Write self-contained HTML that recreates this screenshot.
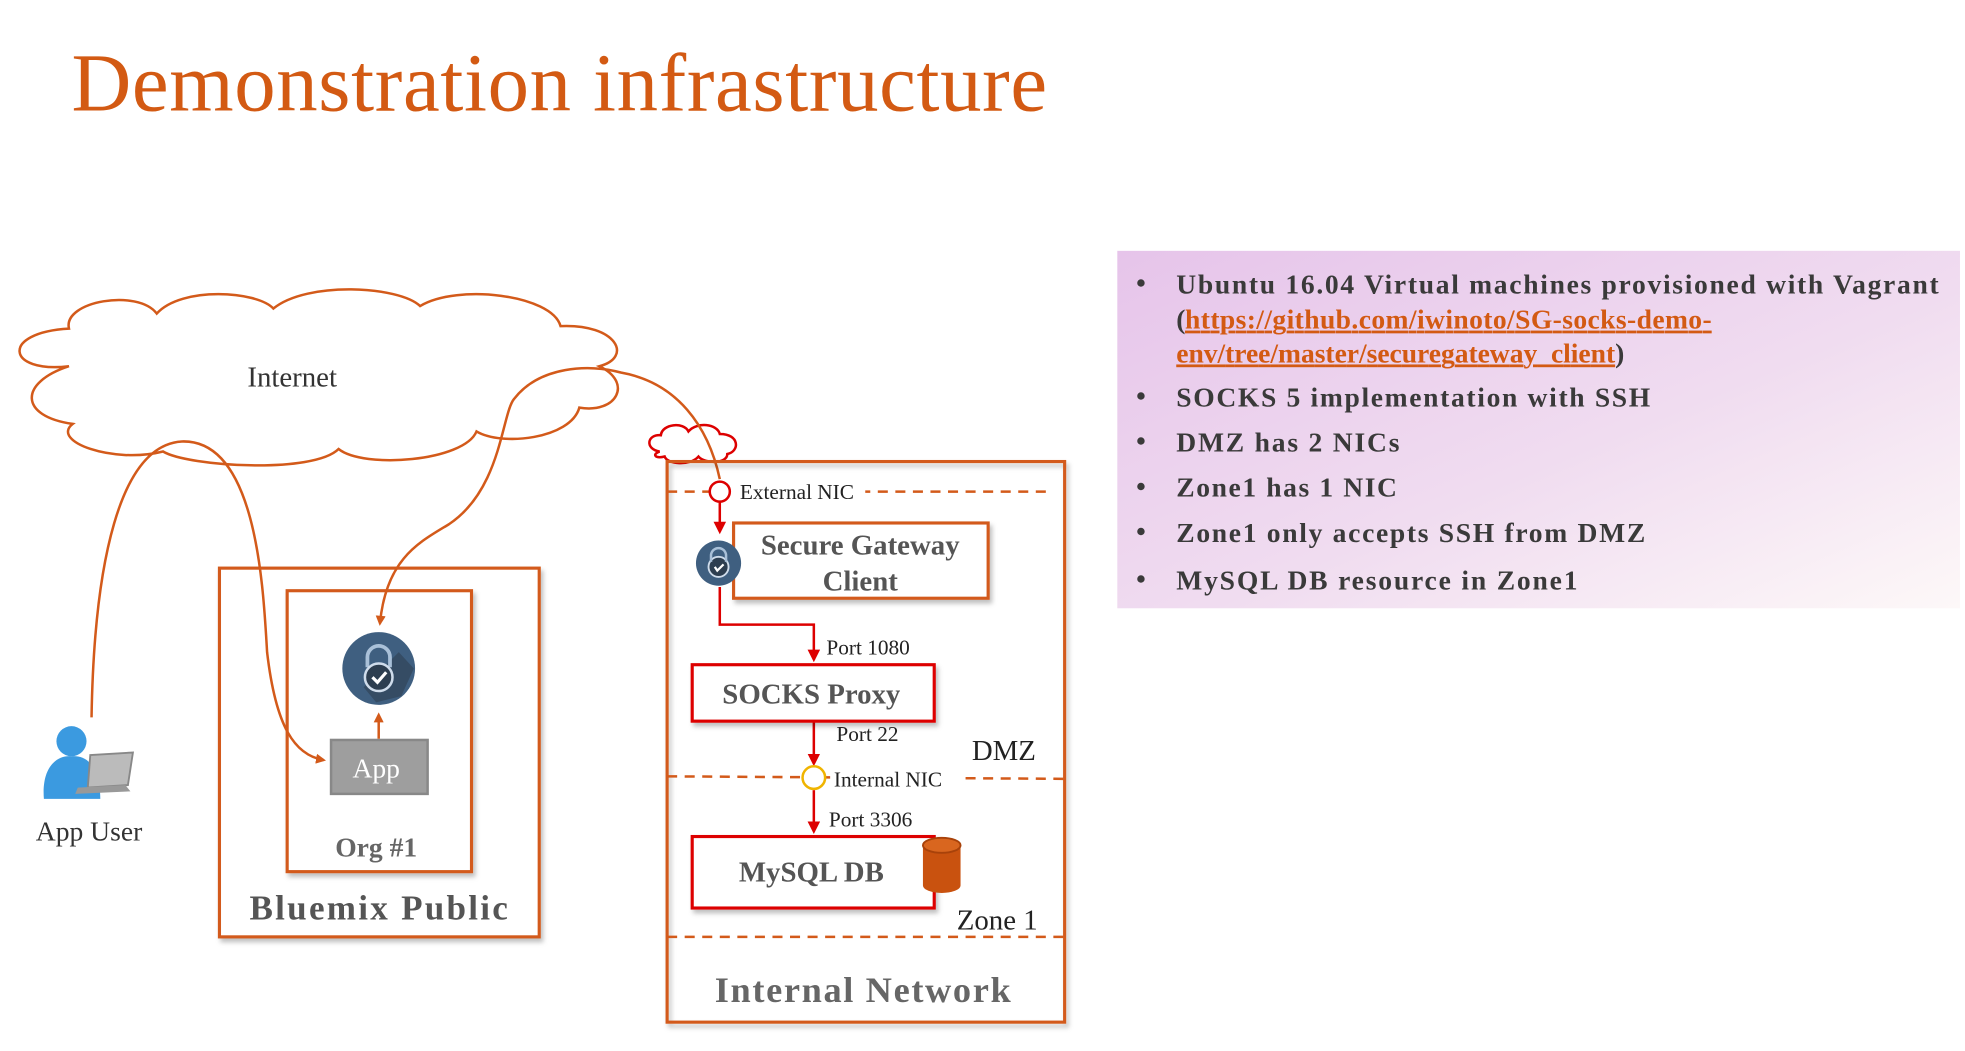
<!DOCTYPE html>
<html><head><meta charset="utf-8"><style>
html,body{margin:0;padding:0;background:#fff;width:1965px;height:1051px;overflow:hidden}
svg{display:block}
text{font-family:"Liberation Serif",serif}
</style></head><body>
<svg width="1965" height="1051" viewBox="0 0 1567 838" preserveAspectRatio="none">
<defs>
<linearGradient id="pg" x1="0" y1="0" x2="1" y2="1">
<stop offset="0" stop-color="#e6c4ea"/><stop offset="0.55" stop-color="#f0dcf0"/><stop offset="1" stop-color="#fdf8f8"/>
</linearGradient>
<marker id="ao" markerWidth="8" markerHeight="8" refX="6" refY="4" orient="auto" markerUnits="userSpaceOnUse"><path d="M0,0 L8,4 L0,8 z" fill="#d35a1a"/></marker>
<marker id="ar" markerWidth="10" markerHeight="10" refX="8" refY="5" orient="auto" markerUnits="userSpaceOnUse"><path d="M0,0 L10,5 L0,10 z" fill="#d00"/></marker>
<filter id="sh" x="-10%" y="-10%" width="130%" height="130%"><feDropShadow dx="2" dy="3" stdDeviation="2" flood-color="#000" flood-opacity="0.25"/></filter>
</defs>

<text x="57" y="88" font-size="66" fill="#d35a13" textLength="778">Demonstration infrastructure</text>

<rect x="891" y="200" width="672" height="285" fill="url(#pg)"/>
<g font-size="22" font-weight="bold" fill="#3a3a3a">
<text x="906" y="233">•</text><text x="938" y="234" textLength="608">Ubuntu 16.04 Virtual machines provisioned with Vagrant</text>
<text x="938" y="262">(</text><text x="945" y="262" fill="#d35a13" text-decoration="underline" textLength="420">https://github.com/iwinoto/SG-socks-demo-</text>
<text x="938" y="289" fill="#d35a13" text-decoration="underline" textLength="350">env/tree/master/securegateway_client</text><text x="1288" y="289">)</text>
<text x="906" y="323">•</text><text x="938" y="324" textLength="378">SOCKS 5 implementation with SSH</text>
<text x="906" y="359">•</text><text x="938" y="360" textLength="178">DMZ has 2 NICs</text>
<text x="906" y="395">•</text><text x="938" y="396" textLength="176">Zone1 has 1 NIC</text>
<text x="906" y="431">•</text><text x="938" y="432" textLength="374">Zone1 only accepts SSH from DMZ</text>
<text x="906" y="469">•</text><text x="938" y="470" textLength="320">MySQL DB resource in Zone1</text>
</g>

<!-- cloud -->
<g fill="#fff" stroke="#d35a1a" stroke-width="2">
<path d="M55,292 C5,298 0,265 55,262 C50,240 110,230 125,250 C145,228 205,232 218,246 C245,224 318,228 335,244 C365,226 440,235 447,260 C492,258 505,285 478,292 C505,305 492,330 462,325 C455,350 400,356 380,344 C370,368 290,374 270,358 C250,378 150,372 130,360 C90,370 40,352 58,338 C15,332 15,305 55,292 Z"/>
</g>
<text x="233" y="308" font-size="23" fill="#333" text-anchor="middle">Internet</text>
<!-- small cloud -->
<path d="M526,360 C514,358 516,346 527,347 C528,338 545,336 549,344 C556,336 572,338 574,346 C590,346 590,360 580,362 C580,370 562,370 557,364 C550,372 532,370 530,364 C522,366 520,362 526,360 Z" fill="#fff" stroke="#d00" stroke-width="2"/>

<!-- Bluemix -->
<rect x="175" y="453" width="255" height="294" fill="#fff" stroke="#d35a1a" stroke-width="2.5" filter="url(#sh)"/>
<rect x="229" y="471" width="147" height="224" fill="#fff" stroke="#d35a1a" stroke-width="2.5" filter="url(#sh)"/>
<circle cx="302" cy="533" r="29" fill="#3f5f80"/>
<path d="M290,548 L318,520 L330,533 L320,555 L300,560 Z" fill="#2e3f52" opacity="0.6"/>
<path d="M293,532 v-8 a9,9 0 0 1 18,0 v8" fill="none" stroke="#a9c0d8" stroke-width="3"/>
<circle cx="302" cy="540" r="11" fill="#2d3e50" stroke="#cfdceb" stroke-width="2"/>
<path d="M297,540 l4,4 l7,-8" fill="none" stroke="#fff" stroke-width="2.5"/>
<rect x="264" y="590" width="77" height="43" fill="#9e9e9e" stroke="#888" stroke-width="2"/>
<text x="300" y="620" font-size="22" fill="#fff" text-anchor="middle">App</text>
<line x1="302" y1="589" x2="302" y2="570" stroke="#d35a1a" stroke-width="2" marker-end="url(#ao)"/>
<text x="300" y="683" font-size="22" font-weight="bold" fill="#666" text-anchor="middle">Org #1</text>
<text x="302" y="733" font-size="28" font-weight="bold" fill="#555" text-anchor="middle" textLength="206">Bluemix Public</text>

<!-- app user -->
<circle cx="57" cy="591" r="12" fill="#3b9ae0"/>
<path d="M35,637 C33,612 45,602 57,603 C70,602 80,612 80,637 Z" fill="#3b9ae0"/>
<path d="M72,602 L106,600 L102,626 L70,628 Z" fill="#bbb" stroke="#888" stroke-width="1.5"/>
<path d="M62,628 L100,626 L104,631 L60,633 Z" fill="#999"/>
<text x="71" y="670" font-size="22" fill="#333" text-anchor="middle">App User</text>

<!-- curves -->
<g fill="none" stroke="#d35a1a" stroke-width="2">
<path d="M73,572 C75,450 95,355 145,352 C205,350 210,470 213,520 C220,580 235,602 258,606" marker-end="url(#ao)"/>
<path d="M574,382 C565,340 540,305 495,297 C470,290 430,292 410,318 C400,330 400,390 358,418 C335,432 308,445 303,497" marker-end="url(#ao)"/>
</g>

<!-- Internal network -->
<rect x="532" y="368" width="317" height="447" fill="none" stroke="#d35a1a" stroke-width="2.5" filter="url(#sh)"/>
<g stroke="#d35a1a" stroke-width="2" stroke-dasharray="8,6">
<line x1="532" y1="392" x2="835" y2="392"/>
<line x1="532" y1="619" x2="848" y2="621"/>
<line x1="532" y1="747" x2="848" y2="747"/>
</g>
<rect x="587" y="382" width="103" height="18" fill="#fff"/>
<text x="590" y="398" font-size="17" fill="#222">External NIC</text>
<circle cx="574" cy="392" r="8" fill="#fff" stroke="#d00" stroke-width="2"/>
<line x1="574" y1="400" x2="574" y2="424" stroke="#d00" stroke-width="2" marker-end="url(#ar)"/>

<rect x="585" y="417" width="203" height="60" fill="#fff" stroke="#d35a1a" stroke-width="2.5" filter="url(#sh)"/>
<text x="686" y="442" font-size="23" font-weight="bold" fill="#555" text-anchor="middle">Secure Gateway</text>
<text x="686" y="471" font-size="23" font-weight="bold" fill="#555" text-anchor="middle">Client</text>
<circle cx="573" cy="449" r="18" fill="#3f5f80"/>
<circle cx="573" cy="452" r="8" fill="#2d3e50" stroke="#cfdceb" stroke-width="1.5"/>
<path d="M567,448 v-5 a6,6 0 0 1 12,0 v5" fill="none" stroke="#a9c0d8" stroke-width="2"/>
<path d="M570,452 l2,3 l5,-5" fill="none" stroke="#fff" stroke-width="1.8"/>

<g stroke="#d00" stroke-width="2" fill="none">
<path d="M574,468 V498 H649 V526" marker-end="url(#ar)"/>
<path d="M649,575 V609" marker-end="url(#ar)"/>
<path d="M649,630 V663" marker-end="url(#ar)"/>
</g>
<text x="659" y="522" font-size="17" fill="#222">Port 1080</text>
<rect x="552" y="530" width="193" height="45" fill="#fff" stroke="#d00" stroke-width="2.5" filter="url(#sh)"/>
<text x="647" y="561" font-size="23" font-weight="bold" fill="#555" text-anchor="middle">SOCKS Proxy</text>
<text x="667" y="591" font-size="17" fill="#222">Port 22</text>
<text x="775" y="606" font-size="23" fill="#222">DMZ</text>
<rect x="662" y="611" width="104" height="18" fill="#fff"/>
<text x="665" y="627" font-size="17" fill="#222">Internal NIC</text>
<circle cx="649" cy="620" r="9" fill="#fff" stroke="#f0b400" stroke-width="2"/>
<text x="661" y="659" font-size="17" fill="#222">Port 3306</text>
<rect x="552" y="667" width="193" height="57" fill="#fff" stroke="#d00" stroke-width="2.5" filter="url(#sh)"/>
<text x="647" y="703" font-size="23" font-weight="bold" fill="#555" text-anchor="middle">MySQL DB</text>
<path d="M736,674 V706 A15,6 0 0 0 766,706 V674 Z" fill="#c9520f"/>
<ellipse cx="751" cy="674" rx="15" ry="6" fill="#d9661f" stroke="#a8420a" stroke-width="1.5"/>
<text x="763" y="741" font-size="23" fill="#222">Zone 1</text>
<text x="688" y="799" font-size="29" font-weight="bold" fill="#666" text-anchor="middle" textLength="236">Internal Network</text>
</svg>
</body></html>
